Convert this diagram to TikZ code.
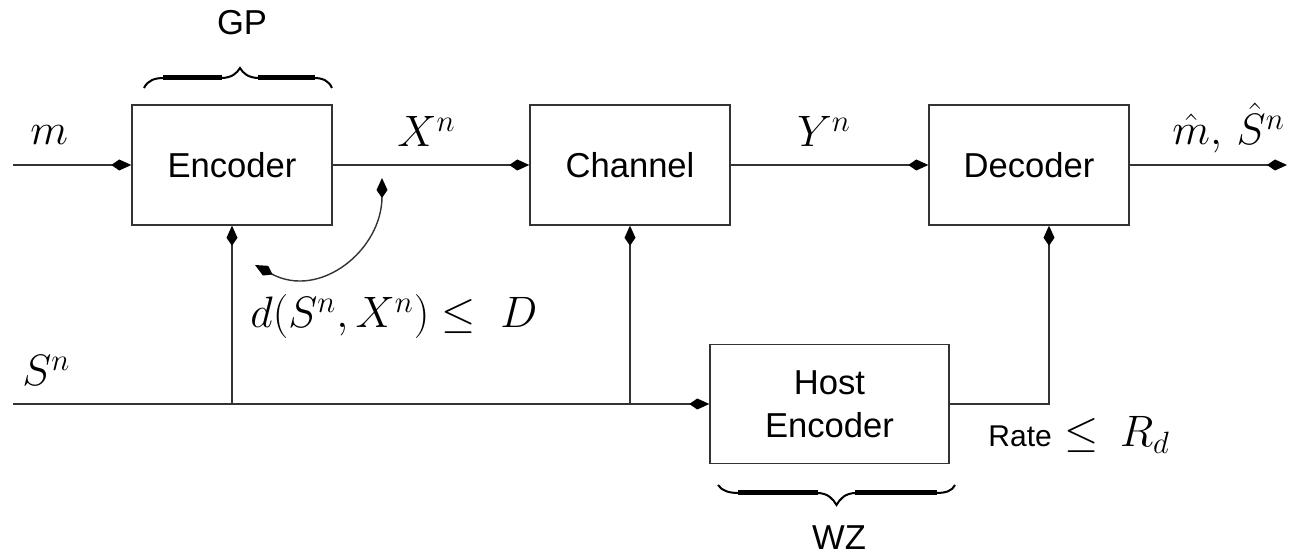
\RequirePackage{fix-cm}
\documentclass[tikz,border=0pt]{standalone}
\usepackage[no-math]{fontspec}
\setmainfont{Liberation Sans}
\usetikzlibrary{arrows.meta}
\begin{document}
\begin{tikzpicture}[x=0.5pt,y=-0.5pt,
  line/.style={draw=black!80, line width=0.7pt},
  tip/.tip={Kite[length=10pt,width=5.5pt,inset=4pt,color=black]},
  arr/.style={line, -tip},
  blk/.style={line, rectangle, minimum width=100pt, minimum height=60pt, inner sep=0pt,
    font=\fontsize{17.3}{21.5}\selectfont, align=center},
  mlab/.style={inner sep=0pt, anchor=base west, font=\fontsize{22}{26}\selectfont},
  tlab/.style={inner sep=0pt, anchor=base, font=\fontsize{17.3}{21}\selectfont},
  bthin/.style={draw=black, line width=1pt},
  bthick/.style={draw=black, line width=2.5pt}]
\useasboundingbox (0,0) rectangle (1291,555);

% blocks
\node[blk] (enc) at (232,165) {Encoder};
\node[blk] (ch) at (630,165) {Channel};
\node[blk] (dec) at (1029,165) {Decoder};
\node[blk, minimum width=119.5pt, minimum height=59.5pt] (host) at (829.5,404) {Host\\Encoder};

% free ends
\coordinate (min) at (13,165);
\coordinate (mout) at (1287,165);
\coordinate (sin) at (13,404);
\coordinate (j1) at (232,404);
\coordinate (j2) at (630,404);
\coordinate (cA) at (382,178);
\coordinate (cB) at (255,265);

% connectors
\draw[arr] (min) -- (enc.west);
\draw[arr] (enc.east) -- (ch.west);
\draw[arr] (ch.east) -- (dec.west);
\draw[arr] (dec.east) -- (mout);
\draw[arr] (sin) -- (host.west);
\draw[arr] (j1) -- (enc.south);
\draw[arr] (j2) -- (ch.south);
\draw[arr] (host.east) -| ([xshift=10pt]dec.south);
\draw[line, tip-tip] (cA) .. controls (382,250) and (320,300) .. (cB);

% labels
\node[mlab] (lm) at (30,145) {$m$};
\node[mlab] (lx) at (397,147) {$X^n$};
\node[mlab] (ly) at (797,147) {$Y^n$};
\node[mlab] (lout) at (1172,145) {$\hat{m},\,\hat{S}^n$};
\node[mlab] (ls) at (22,386) {$S^n$};
\node[mlab] (ld) at (250,328) {$d(S^n,X^n)\leq\;D$};
\node[mlab] (lr) at (988,447) {{\fontsize{15}{18}\selectfont Rate} $\leq\:R_d$};
\node[tlab] (lgp) at (242,35) {GP};
\node[tlab] (lwz) at (839,550) {WZ};

% GP brace
\draw[bthin] (144,88) .. controls (148,80) and (155,78) .. (164,78);
\draw[bthick] (163,78) -- (222,78);
\draw[bthin] (221,78) .. controls (232,78) and (237,73) .. (240,68)
             .. controls (243,73) and (248,78) .. (259,78);
\draw[bthick] (258,78) -- (315,78);
\draw[bthin] (314,78) .. controls (323,78) and (329,81) .. (332,88);

% WZ brace
\draw[bthin] (718,485) .. controls (722,491) and (729,493) .. (739,493);
\draw[bthick] (738,493) -- (818,493);
\draw[bthin] (817,493) .. controls (828,493) and (833,499) .. (836.5,505)
             .. controls (840,499) and (845,493) .. (856,493);
\draw[bthick] (855,493) -- (937,493);
\draw[bthin] (936,493) .. controls (946,493) and (952,491) .. (955,485);
\end{tikzpicture}
\end{document}
